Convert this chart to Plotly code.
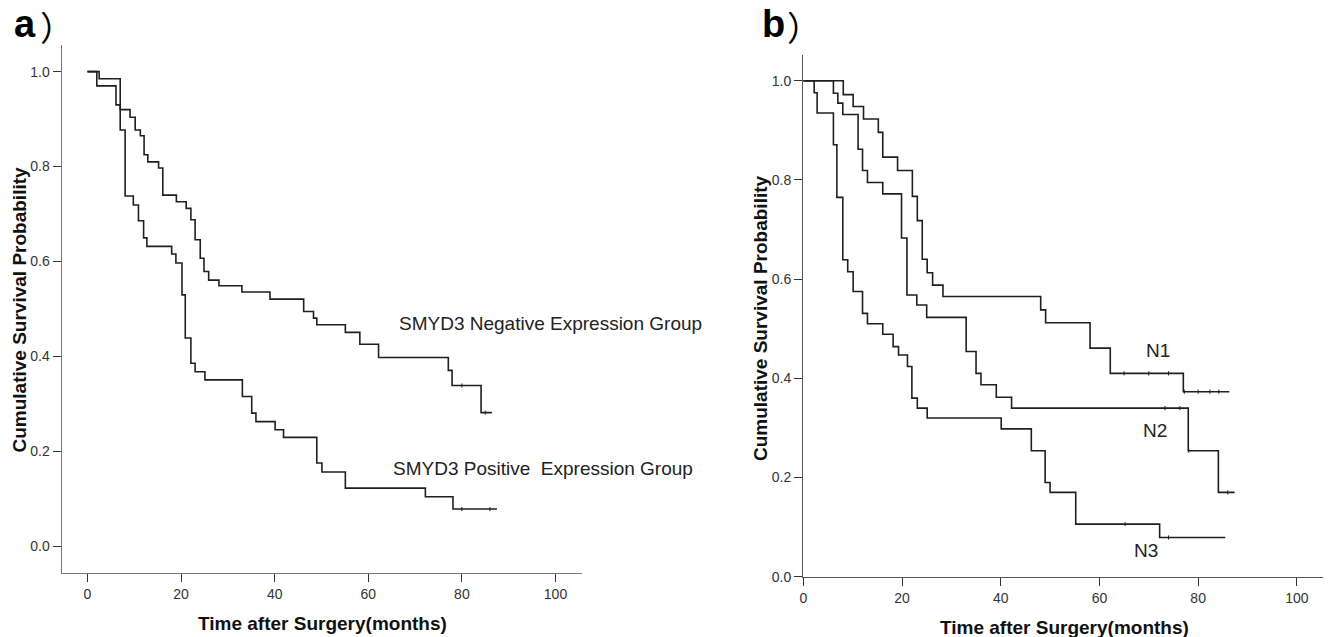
import plotly.graph_objects as go
import numpy as np

W, H = 1330, 637

# ---------------- data ----------------
# Panel a : SMYD3 expression groups
neg_times = [0, 2.5, 7.0, 9.1, 10.2, 11.3, 12.1, 12.9, 15.2, 16.1, 19.0, 21.1, 22.1, 23.0, 24.1,
             24.9, 25.9, 28.1, 33.0, 39.0, 46.2, 48.3, 49.0, 55.1, 58.2, 62.2, 77.1, 77.9, 84.1, 86.4]
neg_surv = [1.0, 0.985, 0.92, 0.904, 0.877, 0.865, 0.825, 0.81, 0.797, 0.74, 0.726, 0.712, 0.688, 0.646,
            0.607, 0.579, 0.561, 0.549, 0.536, 0.521, 0.495, 0.481, 0.467, 0.451, 0.426, 0.398, 0.371,
            0.339, 0.282, 0.282]
neg_censor = [80, 85]

pos_times = [0, 2.0, 6.1, 7.0, 8.05, 9.8, 10.9, 12.0, 12.7, 18.0, 18.9, 20.2, 20.9, 22.1, 23.0, 25.1,
             33.1, 35.1, 36.0, 40.1, 41.9, 49.0, 50.1, 55.1, 72.2, 78.1, 87.5]
pos_surv = [1.0, 0.97, 0.93, 0.877, 0.738, 0.719, 0.686, 0.65, 0.632, 0.616, 0.597, 0.53, 0.439, 0.386,
            0.368, 0.351, 0.316, 0.281, 0.263, 0.246, 0.23, 0.176, 0.157, 0.123, 0.105, 0.079, 0.079]
pos_censor = [80, 86]

# Panel b : N stage groups
n1_times = [0, 8.1, 10.1, 12.2, 15.2, 16.1, 19.1, 22.1, 23.1, 24.1, 25.1, 26.2, 28.3, 48.1, 49.1,
            58.1, 62.2, 77.0, 86.3]
n1_surv = [1.0, 0.972, 0.948, 0.923, 0.896, 0.846, 0.819, 0.767, 0.718, 0.64, 0.613, 0.588, 0.565,
           0.538, 0.512, 0.461, 0.41, 0.373, 0.373]
n1_censor = [65, 70, 74, 77.2, 80, 82.4, 84.2]

n2_times = [0, 6.1, 7.0, 8.0, 11.1, 12.0, 13.0, 16.1, 19.9, 21.0, 23.0, 25.0, 33.0, 35.0, 36.0,
            39.1, 42.2, 78.0, 84.1, 87.4]
n2_surv = [1.0, 0.975, 0.955, 0.932, 0.862, 0.819, 0.795, 0.772, 0.683, 0.568, 0.548, 0.523, 0.454,
           0.41, 0.387, 0.362, 0.34, 0.254, 0.17, 0.17]
n2_censor = [73.3, 76.3, 78.1, 86.0]

n3_times = [0, 2.2, 2.8, 6.1, 6.8, 8.0, 9.0, 10.1, 12.0, 13.0, 16.1, 18.2, 19.3, 21.1, 22.0, 23.1,
            25.1, 40.1, 46.2, 49.0, 50.0, 55.2, 72.2, 85.5]
n3_surv = [1.0, 0.976, 0.935, 0.871, 0.765, 0.639, 0.615, 0.575, 0.531, 0.51, 0.489, 0.464, 0.447,
           0.424, 0.36, 0.34, 0.32, 0.298, 0.254, 0.19, 0.17, 0.106, 0.079, 0.079]
n3_censor = [65.2, 74.0]

x_ticks = [0, 20, 40, 60, 80, 100]
y_ticks = [0.0, 0.2, 0.4, 0.6, 0.8, 1.0]
y_tick_text = ["0.0", "0.2", "0.4", "0.6", "0.8", "1.0"]

# ---------------- figure ----------------
LINE = "#1f1f1f"
FONT = "Arial, Liberation Sans, sans-serif"


def step_value(times, surv, t):
    idx = np.searchsorted(np.array(times), t, side="right") - 1
    return surv[max(idx, 0)]


fig = go.Figure()


def add_curve(times, surv, censor, xa, ya):
    fig.add_trace(go.Scatter(x=times, y=surv, mode="lines", line=dict(color=LINE, width=1.6, shape="hv"),
                             xaxis=xa, yaxis=ya, showlegend=False, hoverinfo="skip"))
    fig.add_trace(go.Scatter(x=censor, y=[step_value(times, surv, c) for c in censor], mode="markers",
                             marker=dict(symbol="line-ns", size=3, line=dict(color=LINE, width=1.0)),
                             xaxis=xa, yaxis=ya, showlegend=False, hoverinfo="skip"))


add_curve(neg_times, neg_surv, neg_censor, "x", "y")
add_curve(pos_times, pos_surv, pos_censor, "x", "y")
add_curve(n1_times, n1_surv, n1_censor, "x2", "y2")
add_curve(n2_times, n2_surv, n2_censor, "x2", "y2")
add_curve(n3_times, n3_surv, n3_censor, "x2", "y2")


def px(x):
    return x / W


def py(y):
    return 1 - y / H


def axis_style(linecolor):
    return dict(showgrid=False, zeroline=False, showline=True, linecolor=linecolor, linewidth=1.4,
                ticks="outside", tickcolor="#333333", tickwidth=1.4, ticklen=8, automargin=False,
                tickfont=dict(family=FONT, size=14, color="#333333"))


fig.update_layout(
    width=W, height=H, margin=dict(l=0, r=0, t=0, b=0, autoexpand=False),
    paper_bgcolor="white", plot_bgcolor="white",
    xaxis=dict(domain=[px(61.7), px(581.7)], range=[-5.5, 105.6], anchor="y",
               tickvals=x_ticks, **axis_style("#777777")),
    yaxis=dict(domain=[py(572.7), py(45)], range=[-0.055, 1.056], anchor="x",
               tickvals=y_ticks, ticktext=y_tick_text, **axis_style("#777777")),
    xaxis2=dict(domain=[px(803.3), px(1323)], range=[0, 105.3], anchor="y2",
                tickvals=x_ticks, **axis_style("#555555")),
    yaxis2=dict(domain=[py(576.7), py(55)], range=[0, 1.052], anchor="x2",
                tickvals=y_ticks, ticktext=y_tick_text, **axis_style("#555555")),
)

annots = [
    # panel letters
    dict(x=px(12), y=py(24), text="<b>a</b>", font=dict(family=FONT, size=38, color="black"),
         xanchor="left", yanchor="middle"),
    dict(x=px(38), y=py(26), text="）", font=dict(family="Noto Sans CJK SC", size=34, color="black"),
         xanchor="left", yanchor="middle"),
    dict(x=px(760), y=py(24), text="<b>b</b>", font=dict(family=FONT, size=38, color="black"),
         xanchor="left", yanchor="middle"),
    dict(x=px(785), y=py(26), text="）", font=dict(family="Noto Sans CJK SC", size=34, color="black"),
         xanchor="left", yanchor="middle"),
    # axis titles
    dict(x=px(18.5), y=py(310), text="<b>Cumulative Survival Probability</b>", textangle=-90,
         font=dict(family=FONT, size=19, color="#111111"), xanchor="center", yanchor="middle"),
    dict(x=px(322), y=py(623), text="<b>Time after Surgery(months)</b>",
         font=dict(family=FONT, size=19, color="#111111"), xanchor="center", yanchor="middle"),
    dict(x=px(761), y=py(318), text="<b>Cumulative Survival Probability</b>", textangle=-90,
         font=dict(family=FONT, size=19, color="#111111"), xanchor="center", yanchor="middle"),
    dict(x=px(1064), y=py(627), text="<b>Time after Surgery(months)</b>",
         font=dict(family=FONT, size=19, color="#111111"), xanchor="center", yanchor="middle"),
    # curve labels
    dict(x=px(397), y=py(323), text="SMYD3 Negative Expression Group",
         font=dict(family=FONT, size=19, color="#222222"), xanchor="left", yanchor="middle"),
    dict(x=px(391), y=py(468), text="SMYD3 Positive  Expression Group",
         font=dict(family=FONT, size=19, color="#222222"), xanchor="left", yanchor="middle"),
    dict(x=px(1158), y=py(350), text="N1", font=dict(family=FONT, size=19, color="#222222"),
         xanchor="center", yanchor="middle"),
    dict(x=px(1155), y=py(430), text="N2", font=dict(family=FONT, size=19, color="#222222"),
         xanchor="center", yanchor="middle"),
    dict(x=px(1146), y=py(550), text="N3", font=dict(family=FONT, size=19, color="#222222"),
         xanchor="center", yanchor="middle"),
]
for a in annots:
    a.update(xref="paper", yref="paper", showarrow=False)
fig.update_layout(annotations=annots)

fig.write_html(
    "out.html",
    config={"displayModeBar": False},
    post_script=(
        "document.documentElement.style.margin='0';"
        "document.documentElement.style.overflow='hidden';"
        "document.body.style.margin='0';document.body.style.padding='0';"
        "document.body.style.overflow='hidden';"
    ),
)
